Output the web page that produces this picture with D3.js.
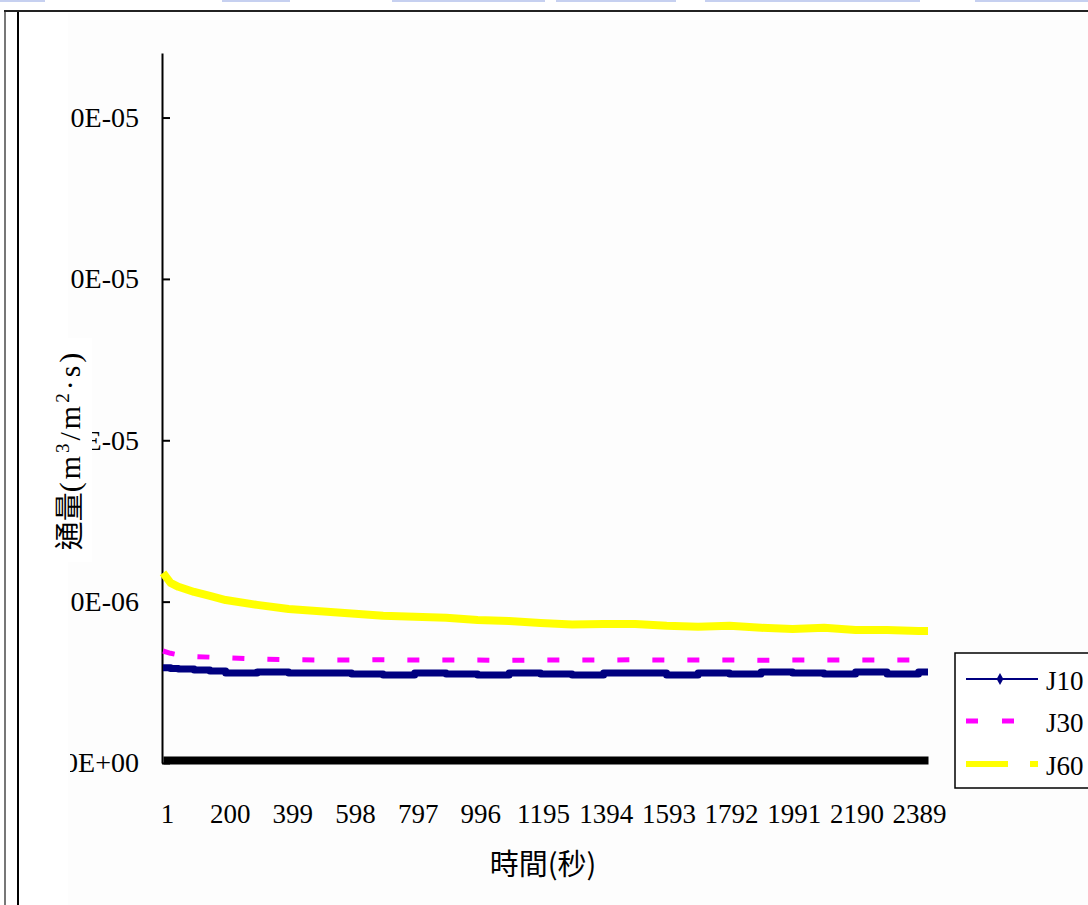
<!DOCTYPE html>
<html>
<head>
<meta charset="utf-8">
<script src="https://cdn.jsdelivr.net/npm/d3@7"></script>
<style>
  body { margin: 0; background: #fff; }
  text { font-family: "Liberation Serif", serif; fill: #000; }
</style>
</head>
<body>
<script>
const times = [1, 25, 50, 100, 150, 200, 300, 400, 500, 600, 700, 800, 900, 1000, 1100,
  1200, 1300, 1400, 1500, 1600, 1700, 1800, 1900, 2000, 2100, 2200, 2300, 2400, 2430];
const j10 = [2.95, 2.93, 2.91, 2.88, 2.85, 2.79, 2.82, 2.79, 2.79, 2.76, 2.73, 2.79, 2.76, 2.73, 2.79,
  2.76, 2.73, 2.79, 2.79, 2.73, 2.79, 2.76, 2.82, 2.79, 2.76, 2.82, 2.76, 2.82, 2.82];
const j30 = [3.47, 3.40, 3.35, 3.30, 3.28, 3.26, 3.22, 3.20, 3.19, 3.19, 3.20, 3.19, 3.19, 3.19, 3.18,
  3.19, 3.19, 3.19, 3.20, 3.19, 3.19, 3.19, 3.18, 3.19, 3.19, 3.19, 3.19, 3.19, 3.19];
const j60 = [5.89, 5.58, 5.46, 5.30, 5.18, 5.05, 4.90, 4.77, 4.70, 4.63, 4.56, 4.53, 4.50, 4.43, 4.40,
  4.34, 4.29, 4.31, 4.31, 4.25, 4.22, 4.25, 4.19, 4.15, 4.19, 4.12, 4.12, 4.09, 4.09];
const seriesNames = ['J10', 'J30', 'J60'];
const xTicks = [1, 200, 399, 598, 797, 996, 1195, 1394, 1593, 1792, 1991, 2190, 2389];
const yTicks = [0, 5, 10, 15, 20];

const width = 1088;
const height = 905;

const svg = d3.select('body').append('svg')
  .attr('width', width)
  .attr('height', height);

// page bits: blue strip at top, frame lines, off-white picture area
const strip = [[0, 45], [222, 290], [392, 545], [556, 676], [705, 920], [975, 1088]];
svg.selectAll('rect.strip').data(strip).join('rect')
  .attr('class', 'strip')
  .attr('x', d => d[0]).attr('y', 0)
  .attr('width', d => d[1] - d[0]).attr('height', 2)
  .attr('fill', '#c6d0f0');
svg.append('rect')
  .attr('x', 68).attr('y', 13).attr('width', width - 68).attr('height', height - 13)
  .attr('fill', '#fdfdfd');
svg.append('line').attr('x1', 5).attr('x2', 5).attr('y1', 11).attr('y2', height)
  .attr('stroke', '#777').attr('stroke-width', 2);
svg.append('line').attr('x1', 18).attr('x2', 18).attr('y1', 11).attr('y2', height)
  .attr('stroke', '#000').attr('stroke-width', 2);
svg.append('line').attr('x1', 4).attr('x2', width).attr('y1', 11).attr('y2', 11)
  .attr('stroke', '#222').attr('stroke-width', 2);

const x = d3.scaleLinear().domain([1, 2430]).range([163, 928]);
const y = d3.scaleLinear().domain([0, 22]).range([763, 53]);

const fmt = v => {
  const [m, e] = (v * 1e-6).toExponential(2).split('e');
  return m + 'E' + (e[0] === '-' ? '-' : '+') + String(Math.abs(+e)).padStart(2, '0');
};

// y axis, labels cut at the left edge of the pasted picture
svg.append('clipPath').attr('id', 'yclip')
  .append('rect').attr('x', 70).attr('y', 0).attr('width', 200).attr('height', height);

const yAxis = svg.append('g').attr('clip-path', 'url(#yclip)')
  .append('g')
  .attr('transform', 'translate(162,0)')
  .call(d3.axisLeft(y).tickValues(yTicks).tickFormat(fmt)
    .tickSizeInner(-8).tickSizeOuter(0).tickPadding(23));
yAxis.select('.domain').attr('stroke', '#000').attr('stroke-width', 2);
yAxis.selectAll('.tick line').attr('stroke', '#000').attr('stroke-width', 2);
yAxis.selectAll('.tick text')
  .style('font-family', '"Liberation Serif", serif')
  .attr('font-size', 28).attr('fill', '#000');

// x axis (thick black base line)
const xAxis = svg.append('g')
  .attr('transform', 'translate(0,760)')
  .call(d3.axisBottom(x).tickValues(xTicks).tickFormat(d3.format('d'))
    .tickSize(0).tickPadding(44));
xAxis.select('.domain').attr('stroke', '#000').attr('stroke-width', 8);
xAxis.selectAll('.tick text')
  .style('font-family', '"Liberation Serif", serif')
  .attr('font-size', 27).attr('fill', '#000').attr('dx', 4);

// series
const series = [
  { name: seriesNames[0], values: j10, color: '#000080', w: 7, dash: null, curve: d3.curveStepAfter },
  { name: seriesNames[1], values: j30, color: '#ff00ff', w: 5, dash: '12,23', curve: d3.curveLinear },
  { name: seriesNames[2], values: j60, color: '#ffff00', w: 8, dash: null, curve: d3.curveLinear }
];

series.forEach(s => {
  const line = d3.line()
    .x((d, i) => x(times[i]))
    .y(d => y(d))
    .curve(s.curve);
  svg.append('path')
    .datum(s.values)
    .attr('fill', 'none')
    .attr('stroke', s.color)
    .attr('stroke-width', s.w)
    .attr('stroke-dasharray', s.dash)
    .attr('stroke-linejoin', 'round')
    .attr('d', line);
});

// y title, on a white box that hides part of a tick label
svg.append('rect').attr('x', 40).attr('y', 338).attr('width', 52).attr('height', 224)
  .attr('fill', '#fff');
const yt = svg.append('text')
  .attr('transform', 'translate(80,450) rotate(-90)')
  .attr('text-anchor', 'middle')
  .attr('font-size', 30);
yt.append('tspan').style('font-family', '"Noto Sans CJK TC", sans-serif')
  .attr('font-size', 29).text('通量');
yt.append('tspan').attr('letter-spacing', 3).text('(m');
yt.append('tspan').attr('dy', -11).attr('font-size', 19).attr('letter-spacing', 3).text('3');
yt.append('tspan').attr('dy', 11).attr('letter-spacing', 3).text('/m');
yt.append('tspan').attr('dy', -11).attr('font-size', 19).attr('letter-spacing', 3).text('2');
yt.append('tspan').attr('dy', 11).attr('letter-spacing', 3).text('·s)');

// x title
svg.append('text')
  .attr('x', 543).attr('y', 875)
  .attr('text-anchor', 'middle')
  .style('font-family', '"Noto Sans CJK TC", sans-serif')
  .attr('font-size', 29)
  .text('時間(秒)');

// legend
const lg = svg.append('g');
lg.append('rect')
  .attr('x', 955).attr('y', 653).attr('width', 200).attr('height', 135)
  .attr('fill', '#fff').attr('stroke', '#000').attr('stroke-width', 1.5);

const legendRows = [
  { name: seriesNames[0], color: '#000080', w: 2, dash: null, y: 679 },
  { name: seriesNames[1], color: '#ff00ff', w: 5, dash: '12,24', y: 721 },
  { name: seriesNames[2], color: '#ffff00', w: 6, dash: '42,22', y: 764 }
];
legendRows.forEach(r => {
  lg.append('line')
    .attr('x1', 966).attr('x2', 1038).attr('y1', r.y).attr('y2', r.y)
    .attr('stroke', r.color).attr('stroke-width', r.w)
    .attr('stroke-dasharray', r.dash);
  lg.append('text')
    .attr('x', 1046).attr('y', r.y + 11)
    .attr('font-size', 27)
    .text(r.name);
});
lg.append('path')
  .attr('d', d3.symbol(d3.symbolDiamond, 40)())
  .attr('transform', 'translate(1000,679)')
  .attr('fill', '#000080');
</script>
</body>
</html>
